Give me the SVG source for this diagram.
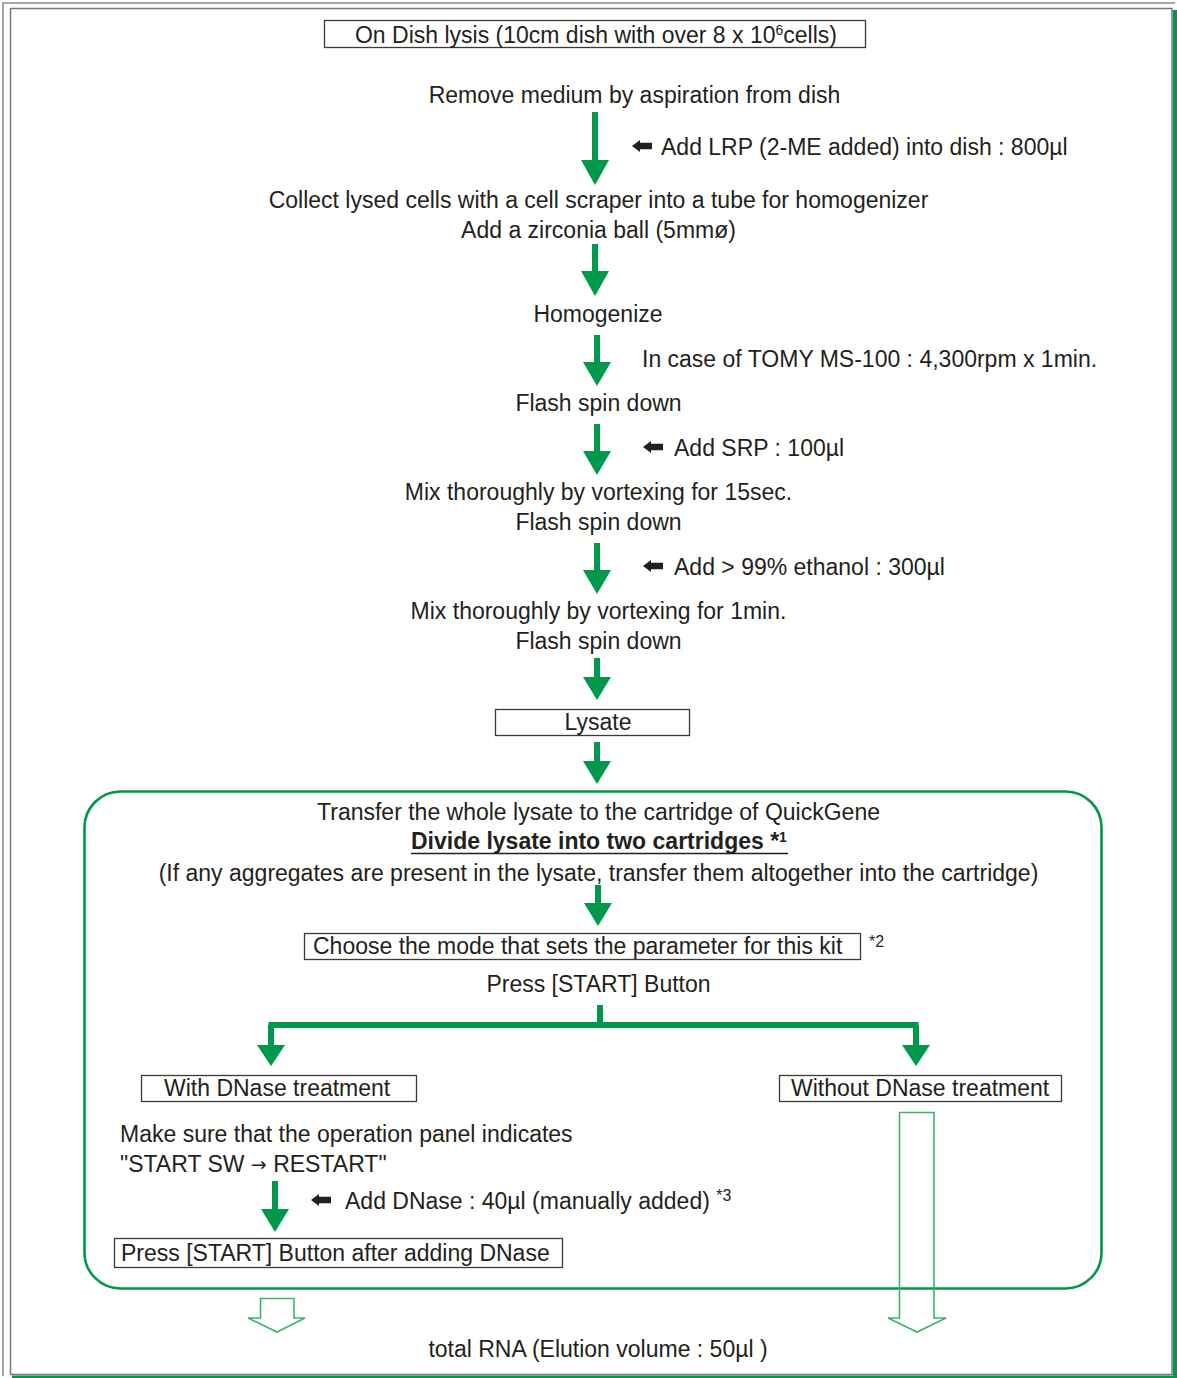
<svg xmlns="http://www.w3.org/2000/svg" width="1177" height="1378" viewBox="0 0 1177 1378">
<style>
text{font-family:"Liberation Sans",Arial,Helvetica,sans-serif;font-size:23px;fill:#231f20}
.c{text-anchor:middle}
.b{font-weight:bold}
.sup{font-size:14px}
.sup2{font-size:16px}
.box{fill:#fff;stroke:#3a3a3a;stroke-width:1.3}
.sh{stroke:#00984a;stroke-width:6;fill:none}
.hd{fill:#00984a}
.hollow{fill:none;stroke:#3cb46e;stroke-width:1.6}
</style>
<defs>
<path id="la" d="M0,0 L8,-6 L8,-3.2 L20,-3.2 L20,3.2 L8,3.2 L8,6 Z" fill="#231f20"/>
</defs>
<rect x="0" y="0" width="1177" height="1378" fill="#fff"/>
<g id="frame">
<path d="M3,1376 V3 H1175" fill="none" stroke="#8a8a8a" stroke-width="1.5"/>
<rect x="10.5" y="8.5" width="1161.5" height="1366" fill="none" stroke="#777" stroke-width="1.5"/>
<rect x="1173" y="10" width="4" height="1368" fill="#00984a"/>
<rect x="12" y="1375.5" width="1165" height="2.5" fill="#00984a"/>
</g>
<g id="container">
<rect x="84.5" y="791.5" width="1017" height="497" rx="36" ry="36" fill="none" stroke="#00984a" stroke-width="2.6"/>
</g>
<g id="connectors">
<path class="sh" d="M595,112V162M595,244V272M597,335V363M597,424V452M597,543V571M597,658V678M597,742V762M598,885V905M600,1005V1025M268.5,1025H918.5M271,1025V1047M916,1025V1047M275,1181V1210"/>
<polygon class="hd" points="581,160 609,160 595,185"/>
<polygon class="hd" points="581,271 609,271 595,296"/>
<polygon class="hd" points="583,362 611,362 597,386"/>
<polygon class="hd" points="583,451 611,451 597,475"/>
<polygon class="hd" points="583,570 611,570 597,594"/>
<polygon class="hd" points="583,677 611,677 597,700"/>
<polygon class="hd" points="583,761 611,761 597,784"/>
<polygon class="hd" points="584,903 612,903 598,926"/>
<polygon class="hd" points="257,1045 285,1045 271,1066"/>
<polygon class="hd" points="902,1045 930,1045 916,1066"/>
<polygon class="hd" points="261,1209 289,1209 275,1232"/>
<polygon class="hollow" points="260.5,1298.5 294,1298.5 294,1318 305,1318 277,1332 248,1318 260.5,1318"/>
<polygon class="hollow" points="899.5,1112.5 934,1112.5 934,1318 946,1318 917,1332 888,1318 899.5,1318"/>
</g>
<g id="n-ondish">
<rect class="box" x="324.5" y="20.5" width="541" height="27"/>
<text class="c" x="596" y="43">On Dish lysis (10cm dish with over 8 x 10<tspan class="sup" dy="-8">6</tspan><tspan dy="8">cells)</tspan></text>
</g>
<g id="n-remove"><text class="c" x="634.5" y="103">Remove medium by aspiration from dish</text></g>
<g id="n-lrp"><use href="#la" x="632" y="146"/><text x="661" y="155">Add LRP (2-ME added) into dish : 800µl</text></g>
<g id="n-collect">
<text class="c" x="598.5" y="208">Collect lysed cells with a cell scraper into a tube for homogenizer</text>
<text class="c" x="598.5" y="238">Add a zirconia ball (5mmø)</text>
</g>
<g id="n-homog"><text class="c" x="598" y="322">Homogenize</text></g>
<g id="n-tomy"><text x="642" y="367">In case of TOMY MS-100 : 4,300rpm x 1min.</text></g>
<g id="n-flash1"><text class="c" x="598.5" y="411">Flash spin down</text></g>
<g id="n-srp"><use href="#la" x="643" y="447"/><text x="674" y="456">Add SRP : 100µl</text></g>
<g id="n-mix1">
<text class="c" x="598.5" y="500">Mix thoroughly by vortexing for 15sec.</text>
<text class="c" x="598.5" y="530">Flash spin down</text>
</g>
<g id="n-eth"><use href="#la" x="643" y="566"/><text x="674" y="575">Add &gt; 99% ethanol : 300µl</text></g>
<g id="n-mix2">
<text class="c" x="598.5" y="619">Mix thoroughly by vortexing for 1min.</text>
<text class="c" x="598.5" y="649">Flash spin down</text>
</g>
<g id="n-lysate">
<rect class="box" x="495.5" y="709.5" width="194" height="26"/>
<text class="c" x="598" y="730">Lysate</text>
</g>
<g id="n-transfer">
<text class="c" x="598.5" y="820">Transfer the whole lysate to the cartridge of QuickGene</text>
<text class="b" x="411" y="849">Divide lysate into two cartridges *<tspan class="sup" dy="-7">1</tspan></text>
<line x1="411" y1="853.5" x2="788" y2="853.5" stroke="#231f20" stroke-width="1.5"/>
<text class="c" x="598.5" y="881">(If any aggregates are present in the lysate, transfer them altogether into the cartridge)</text>
</g>
<g id="n-choose">
<rect class="box" x="304.5" y="933.5" width="556" height="26"/>
<text x="313" y="954">Choose the mode that sets the parameter for this kit</text>
<text class="sup2" x="869" y="947">*2</text>
</g>
<g id="n-press"><text class="c" x="598.5" y="992">Press [START] Button</text></g>
<g id="n-with">
<rect class="box" x="141.5" y="1075.5" width="275" height="26"/>
<text x="164" y="1096">With DNase treatment</text>
</g>
<g id="n-without">
<rect class="box" x="779.5" y="1075.5" width="282" height="26"/>
<text x="791" y="1096">Without DNase treatment</text>
</g>
<g id="n-makesure">
<text x="120" y="1142">Make sure that the operation panel indicates</text>
<text x="120" y="1172">"START SW <tspan font-family="DejaVu Sans,sans-serif" font-size="19" dy="-1">→</tspan><tspan dy="1"> RESTART"</tspan></text>
</g>
<g id="n-dnase"><use href="#la" x="311" y="1200"/><text x="345" y="1209">Add DNase : 40µl (manually added) <tspan class="sup2" dy="-8">*3</tspan></text></g>
<g id="n-pressafter">
<rect class="box" x="114.5" y="1238.5" width="448" height="29"/>
<text x="121" y="1261">Press [START] Button after adding DNase</text>
</g>
<g id="n-total"><text class="c" x="598" y="1357">total RNA (Elution volume : 50µl )</text></g>
</svg>
